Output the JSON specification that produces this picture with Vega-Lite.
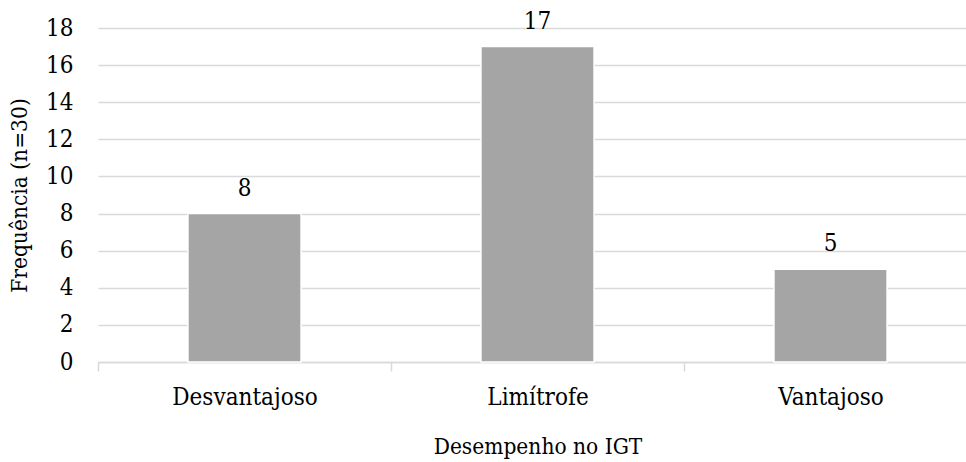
{
  "$schema": "https://vega.github.io/schema/vega-lite/v6.json",
  "autosize": {"type": "none"},
  "padding": {"left": 98, "top": 28, "right": 0, "bottom": 100},
  "width": 868,
  "height": 334,
  "background": "#ffffff",
  "config": {
    "view": {"stroke": null},
    "font": "DejaVu Serif Condensed",
    "axis": {
      "labelFont": "DejaVu Serif Condensed",
      "titleFont": "DejaVu Serif Condensed",
      "labelFontSize": 24,
      "titleFontSize": 22.5,
      "labelColor": "#000000",
      "titleColor": "#000000",
      "titleFontWeight": "normal"
    }
  },
  "data": {
    "values": [
      {"desempenho": "Desvantajoso", "frequencia": 8},
      {"desempenho": "Limítrofe", "frequencia": 17},
      {"desempenho": "Vantajoso", "frequencia": 5}
    ]
  },
  "encoding": {
    "x": {
      "field": "desempenho",
      "type": "nominal",
      "sort": null,
      "scale": {"range": [0, 879], "paddingInner": 0, "paddingOuter": 0},
      "axis": {
        "title": "Desempenho no IGT",
        "labelAngle": 0,
        "labelPadding": 14,
        "titlePadding": 26,
        "domainColor": "#D9D9D9",
        "domainWidth": 1.5,
        "tickColor": "#D9D9D9",
        "tickWidth": 1.5,
        "tickSize": 9,
        "tickBand": "extent",
        "grid": false
      }
    },
    "y": {
      "field": "frequencia",
      "type": "quantitative",
      "scale": {"domain": [0, 18], "nice": false},
      "axis": {
        "title": "Frequência (n=30)",
        "values": [0, 2, 4, 6, 8, 10, 12, 14, 16, 18],
        "domain": false,
        "ticks": false,
        "labelPadding": 25,
        "titlePadding": 14,
        "grid": true,
        "gridColor": "#D9D9D9",
        "gridWidth": 1.5
      }
    }
  },
  "layer": [
    {
      "mark": {
        "type": "bar",
        "color": "#A5A5A5",
        "stroke": "#ffffff",
        "strokeWidth": 1.5,
        "width": {"band": 0.386}
      }
    },
    {
      "mark": {
        "type": "text",
        "baseline": "alphabetic",
        "dy": -18,
        "font": "DejaVu Serif Condensed",
        "fontSize": 24,
        "color": "#000000"
      },
      "encoding": {
        "text": {"field": "frequencia", "type": "quantitative"}
      }
    }
  ]
}
